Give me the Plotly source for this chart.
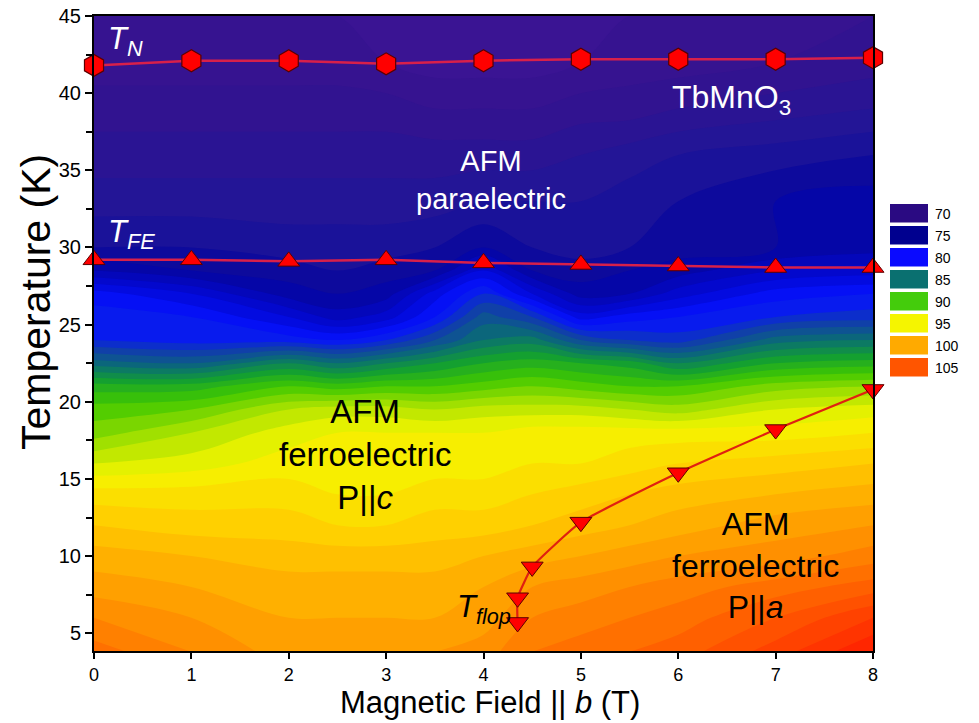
import plotly.graph_objects as go

# ---------------- data ----------------
field = [0, 1, 2, 2.5, 3, 3.5, 4, 4.5, 5, 5.5, 6, 7, 8]
temps = [3.8, 6, 8, 10, 12, 14, 16, 18, 19.5, 21, 22.5, 24, 25.5, 27, 28.5, 30, 33, 36, 39, 42, 45]

# estimated map values (rows = temps, cols = field)
z_map = [
    [103.5, 102.0, 100.5, 100.5, 101.0, 101.0, 101.5, 103.0, 103.5, 104.0, 104.5, 106.5, 109.0],  # 3.8
    [102.0, 101.0, 100.0, 100.0, 100.0, 100.0, 100.5, 102.0, 102.5, 103.0, 103.5, 105.0, 107.0],  # 6
    [100.5, 100.0, 99.5, 99.5, 99.5, 99.5, 100.0, 101.0, 101.5, 102.0, 102.5, 103.5, 104.5],      # 8
    [99.5, 99.0, 98.5, 98.5, 98.5, 98.5, 99.0, 99.5, 100.0, 100.5, 101.0, 101.5, 102.5],          # 10
    [98.0, 97.5, 97.5, 97.0, 97.0, 97.5, 97.5, 98.0, 98.5, 99.0, 99.5, 100.5, 101.0],             # 12
    [96.5, 96.5, 96.5, 96.0, 96.0, 96.5, 96.5, 97.0, 97.5, 98.0, 98.5, 99.0, 99.5],               # 14
    [94.0, 94.5, 95.5, 95.5, 95.5, 95.5, 95.5, 96.0, 96.0, 96.5, 97.0, 97.5, 98.0],               # 16
    [91.5, 93.0, 94.5, 95.0, 95.0, 95.0, 95.0, 95.5, 95.5, 95.5, 95.5, 95.5, 96.0],               # 18
    [90.5, 91.0, 93.0, 93.5, 93.5, 93.0, 93.5, 93.5, 93.5, 93.0, 92.5, 94.0, 94.5],               # 19.5
    [88.5, 88.5, 90.0, 89.5, 90.0, 90.0, 90.5, 91.0, 90.5, 90.0, 90.0, 91.5, 92.0],               # 21
    [84.5, 84.0, 86.0, 85.0, 86.0, 87.0, 88.0, 88.5, 88.0, 87.5, 86.0, 88.0, 88.5],               # 22.5
    [81.0, 80.5, 80.5, 80.0, 81.0, 83.0, 85.0, 85.5, 83.0, 82.0, 81.5, 84.5, 85.0],               # 24
    [80.5, 80.0, 78.0, 76.5, 77.5, 80.0, 83.5, 82.0, 78.5, 79.5, 80.0, 81.0, 81.5],               # 25.5
    [79.5, 78.0, 75.5, 75.0, 75.5, 78.5, 81.0, 78.0, 75.5, 76.0, 77.5, 79.5, 80.0],               # 27
    [76.0, 75.0, 74.5, 74.0, 74.5, 75.0, 78.0, 75.0, 74.5, 75.0, 75.5, 77.0, 77.5],               # 28.5
    [74.0, 74.0, 73.5, 73.5, 73.5, 74.0, 75.0, 74.0, 73.5, 74.0, 74.5, 75.0, 75.5],               # 30
    [72.5, 72.5, 72.5, 72.5, 72.5, 72.5, 73.0, 73.0, 73.0, 73.5, 74.0, 75.0, 75.5],               # 33
    [71.5, 71.5, 71.5, 71.5, 71.5, 71.5, 71.5, 71.5, 72.0, 72.5, 73.0, 73.5, 74.0],               # 36
    [70.5, 70.5, 70.5, 70.5, 70.5, 70.0, 70.0, 70.0, 70.5, 70.5, 71.0, 71.5, 72.0],               # 39
    [69.5, 69.5, 69.5, 69.5, 69.0, 68.5, 68.5, 68.5, 69.0, 69.5, 69.5, 70.0, 70.5],               # 42
    [69.0, 69.0, 69.0, 69.0, 68.5, 68.0, 68.0, 68.0, 68.5, 69.0, 69.0, 69.5, 70.0],               # 45
]

tn_field = [0, 1, 2, 3, 4, 5, 6, 7, 8]
tn_temp = [41.8, 42.1, 42.1, 41.9, 42.1, 42.2, 42.2, 42.2, 42.3]

tfe_field = [0, 1, 2, 3, 4, 5, 6, 7, 8]
tfe_temp = [29.2, 29.2, 29.1, 29.2, 29.0, 28.9, 28.8, 28.7, 28.7]

tflop_field = [4.35, 4.35, 4.5, 5.0, 6.0, 7.0, 8.0]
tflop_temp = [5.7, 7.3, 9.3, 12.2, 15.4, 18.2, 20.8]

key_levels = [70, 75, 80, 85, 90, 95, 100, 105]
key_colors = ["#2a0a82", "#00008f", "#0a0aff", "#0a7070", "#44cc0c", "#f5f500", "#ffaa00", "#ff5500"]

x_ticks = [0, 1, 2, 3, 4, 5, 6, 7, 8]
y_ticks = [5, 10, 15, 20, 25, 30, 35, 40, 45]

# ---------------- styling ----------------
FONT = "Liberation Sans, Arial, sans-serif"
zmin, zmax = 66, 110
stops = [
    (66, "#44169a"), (70, "#34128e"), (73, "#201697"), (75, "#06069e"),
    (78, "#0208d6"), (80, "#0612ff"), (82.5, "#1040a8"), (85, "#0a7070"),
    (87.5, "#14a030"), (90, "#40c800"), (92.5, "#a0e000"), (95, "#f5f500"),
    (97.5, "#ffd000"), (100, "#ffa800"), (103, "#ff7800"), (105, "#ff5800"),
    (110, "#ff1000"),
]
cscale = [[(v - zmin) / (zmax - zmin), c] for v, c in stops]

fig = go.Figure()

fig.add_trace(go.Contour(
    x=field, y=temps, z=z_map, colorscale=cscale, zmin=zmin, zmax=zmax,
    contours=dict(start=66, end=110, size=1, coloring="fill"),
    line=dict(width=0), showscale=False, hoverinfo="skip",
))

fig.add_trace(go.Scatter(
    x=tn_field, y=tn_temp, mode="lines+markers",
    line=dict(color="#d8204a", width=2.5),
    marker=dict(symbol="hexagon", size=22, color="#ff0000", line=dict(color="#5a0000", width=1.2)),
    cliponaxis=False, showlegend=False,
))
fig.add_trace(go.Scatter(
    x=tfe_field, y=tfe_temp, mode="lines+markers",
    line=dict(color="#d8204a", width=2.5),
    marker=dict(symbol="triangle-up", size=19, color="#ff0000", line=dict(color="#5a0000", width=1)),
    cliponaxis=False, showlegend=False,
))
fig.add_trace(go.Scatter(
    x=tflop_field, y=tflop_temp, mode="lines+markers",
    line=dict(color="#e02010", width=2.2, shape="spline", smoothing=0.4),
    marker=dict(symbol="triangle-down", size=19, color="#ff0000", line=dict(color="#5a0000", width=1)),
    cliponaxis=False, showlegend=False,
))

# key (discrete boxes)
n = len(key_levels)
kscale = []
for i, c in enumerate(key_colors):
    kscale.append([i / n, c])
    kscale.append([(i + 1) / n, c])
fig.add_trace(go.Heatmap(
    x=[0], y=key_levels, z=[[v] for v in key_levels],
    colorscale=kscale, zmin=key_levels[0] - 2.5, zmax=key_levels[-1] + 2.5,
    ygap=3.5, showscale=False, xaxis="x2", yaxis="y2", hoverinfo="skip",
))

# the page body adds an 8px offset, so the figure is laid out in shifted coordinates
OFF = 8
W, H = 979 - 2 * OFF, 723 - OFF
ml, mt = 94 - OFF, 16 - OFF
plot_right = 873 - OFF
plot_bottom = 651 - OFF
mr = 12
mb = H - plot_bottom
pw = W - ml - mr
ph = H - mt - mb
main_right = (plot_right - ml) / pw

fig.update_layout(
    width=W, height=H,
    margin=dict(l=ml, r=mr, t=mt, b=mb),
    paper_bgcolor="white", plot_bgcolor="white",
    font=dict(family=FONT, color="black"),
    xaxis=dict(
        domain=[0, main_right], range=[0, 8], tickvals=x_ticks, automargin=False,
        ticks="outside", ticklen=6, tickwidth=1.5, tickcolor="black",
        showline=True, linecolor="black", linewidth=2, mirror=True,
        showgrid=False, zeroline=False, ticklabeloverflow="allow",
        tickfont=dict(size=18, family=FONT),
    ),
    yaxis=dict(
        range=[3.85, 45], tickvals=y_ticks, automargin=False,
        ticks="outside", ticklen=7, tickwidth=1.5, tickcolor="black",
        minor=dict(tickvals=[7.5, 12.5, 17.5, 22.5, 27.5, 32.5, 37.5, 42.5], ticks="outside", ticklen=6, tickcolor="black"),
        showline=True, linecolor="black", linewidth=2, mirror=True,
        showgrid=False, zeroline=False, ticklabeloverflow="allow",
        tickfont=dict(size=20, family=FONT),
    ),
    xaxis2=dict(
        domain=[(890 - OFF - ml) / pw, (928 - OFF - ml) / pw], anchor="y2", automargin=False,
        showticklabels=False, showgrid=False, zeroline=False, showline=False, ticks="",
    ),
    yaxis2=dict(
        domain=[(plot_bottom - (379 - OFF)) / ph, (plot_bottom - (203 - OFF)) / ph], anchor="x2",
        automargin=False, autorange="reversed", side="right", tickvals=key_levels,
        showgrid=False, zeroline=False, showline=False, ticks="",
        tickfont=dict(size=14, family=FONT), ticklabelstandoff=6,
    ),
)

# axis titles placed as text in paper coordinates
fig.add_annotation(
    x=(490 - OFF - ml) / pw, y=-(722 - OFF - plot_bottom) / ph, xref="paper", yref="paper",
    text="Magnetic Field || <i>b</i> (T)", showarrow=False,
    xanchor="center", yanchor="bottom", font=dict(size=31, family=FONT, color="black"),
)
fig.add_annotation(
    x=-(ml - 36 + OFF) / pw, y=(plot_bottom - (302 - OFF)) / ph, xref="paper", yref="paper",
    text="Temperature (K)", textangle=-90, showarrow=False,
    xanchor="center", yanchor="middle", font=dict(size=41, family=FONT, color="black"),
)

ann = [
    dict(x=0.12, y=43.4, text="<i>T</i><sub><i>N</i></sub>", color="white", size=31, xanchor="left"),
    dict(x=0.12, y=30.9, text="<i>T</i><sub><i>FE</i></sub>", color="white", size=31, xanchor="left"),
    dict(x=6.55, y=39.6, text="TbMnO<sub>3</sub>", color="white", size=32, xanchor="center"),
    dict(x=4.08, y=34.4, text="AFM<br>paraelectric", color="white", size=29, xanchor="center"),
    dict(x=2.78, y=16.6, text="AFM<br>ferroelectric<br>P||<i>c</i>", color="black", size=33, xanchor="center"),
    dict(x=6.79, y=9.4, text="AFM<br>ferroelectric<br>P||<i>a</i>", color="black", size=32, xanchor="center"),
    dict(x=4.30, y=6.6, text="<i>T</i><sub><i>flop</i></sub>", color="black", size=31, xanchor="right"),
]
for a in ann:
    fig.add_annotation(
        x=a["x"], y=a["y"], xref="x", yref="y", text=a["text"], showarrow=False,
        xanchor=a["xanchor"], yanchor="middle",
        font=dict(size=a["size"], color=a["color"], family=FONT),
    )

fig.write_html("out.html")
